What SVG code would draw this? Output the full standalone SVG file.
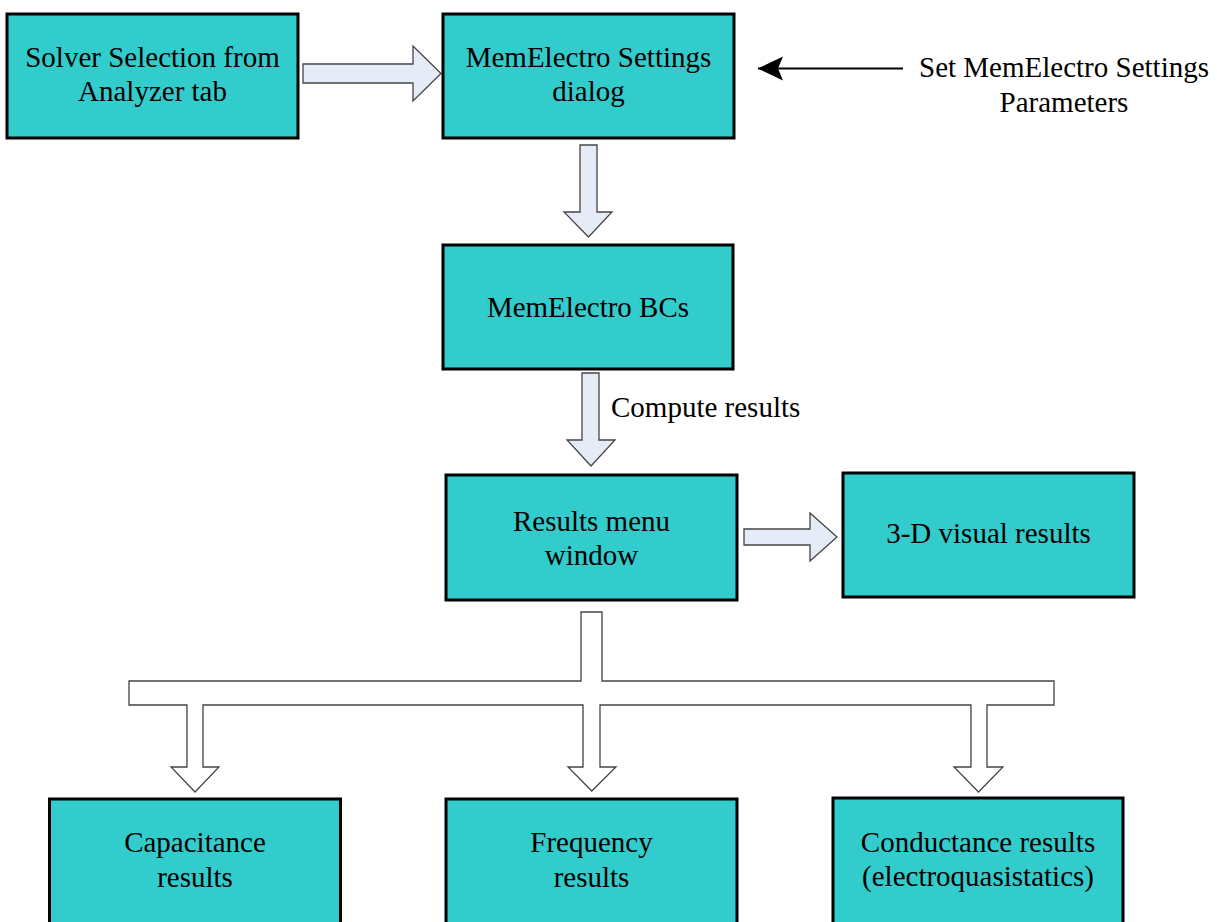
<svg xmlns="http://www.w3.org/2000/svg" width="1217" height="922" viewBox="0 0 1217 922">
<style>
.box{fill:#33CCCC;stroke:#000;stroke-width:3}
.lbl{font-family:"Liberation Serif","Times New Roman",serif;font-size:29px;fill:#000;text-anchor:middle}
.blk{fill:#E6ECF7;stroke:#444;stroke-width:1.3;stroke-linejoin:miter}
.br{fill:#fff;stroke:#444;stroke-width:1.3}
</style>
<defs>
<marker id="ah" markerUnits="userSpaceOnUse" markerWidth="26" markerHeight="26" refX="25" refY="12" orient="auto" viewBox="0 0 26 24">
<path d="M25,12 L0,0 L5,12 L0,24 Z" fill="#000"/>
</marker>
</defs>
<rect width="1217" height="922" fill="#fff"/>
<g id="connectors">
<polygon class="blk" points="303,64 413,64 413,46 441,73.5 413,101 413,83 303,83"/>
<polygon class="blk" points="580,145 597,145 597,212 612,212 588.5,237 564,212 580,212"/>
<polygon class="blk" points="582,373 599,373 599,440 615,440 591,466 567,440 582,440"/>
<polygon class="blk" points="744,529 810,529 810,513 837,537 810,561 810,545 744,545"/>
<polygon class="br" points="581,612 602,612 602,681 1054,681 1054,705 987,705 987,767 1003,767 978.5,792 954,767 971,767 971,705 600,705 600,767 616,767 591.8,791 568,767 583,767 583,705 203,705 203,767 219,767 195,792 171,767 187,767 187,705 129,705 129,681 581,681"/>
<line x1="903" y1="68.5" x2="758" y2="68.5" stroke="#000" stroke-width="2.2" marker-end="url(#ah)"/>
<text class="lbl" x="611" y="417" style="text-anchor:start">Compute results</text>
</g>
<g id="n-solver"><rect class="box" x="7" y="14" width="291" height="124"/>
<text class="lbl" x="152.5" y="67">Solver Selection from</text><text class="lbl" x="152.5" y="101">Analyzer tab</text></g>
<g id="n-settings"><rect class="box" x="443" y="14" width="291" height="124"/>
<text class="lbl" x="588.5" y="67">MemElectro Settings</text><text class="lbl" x="588.5" y="101">dialog</text></g>
<g id="n-param"><text class="lbl" x="1064" y="77">Set MemElectro Settings</text><text class="lbl" x="1064" y="112">Parameters</text></g>
<g id="n-bcs"><rect class="box" x="443" y="245" width="290" height="124"/>
<text class="lbl" x="588" y="317">MemElectro BCs</text></g>
<g id="n-results"><rect class="box" x="446" y="475" width="291" height="125"/>
<text class="lbl" x="591.5" y="531">Results menu</text><text class="lbl" x="591.5" y="565">window</text></g>
<g id="n-3d"><rect class="box" x="843" y="473" width="291" height="124"/>
<text class="lbl" x="988.5" y="543">3-D visual results</text></g>
<g id="n-cap"><rect class="box" x="49.5" y="799" width="291" height="130"/>
<text class="lbl" x="195" y="852">Capacitance</text><text class="lbl" x="195" y="887">results</text></g>
<g id="n-freq"><rect class="box" x="446" y="799" width="291" height="130"/>
<text class="lbl" x="591.5" y="852">Frequency</text><text class="lbl" x="591.5" y="887">results</text></g>
<g id="n-cond"><rect class="box" x="833" y="798" width="290" height="130"/>
<text class="lbl" x="978" y="852">Conductance results</text><text class="lbl" x="978" y="886">(electroquasistatics)</text></g>
</svg>
